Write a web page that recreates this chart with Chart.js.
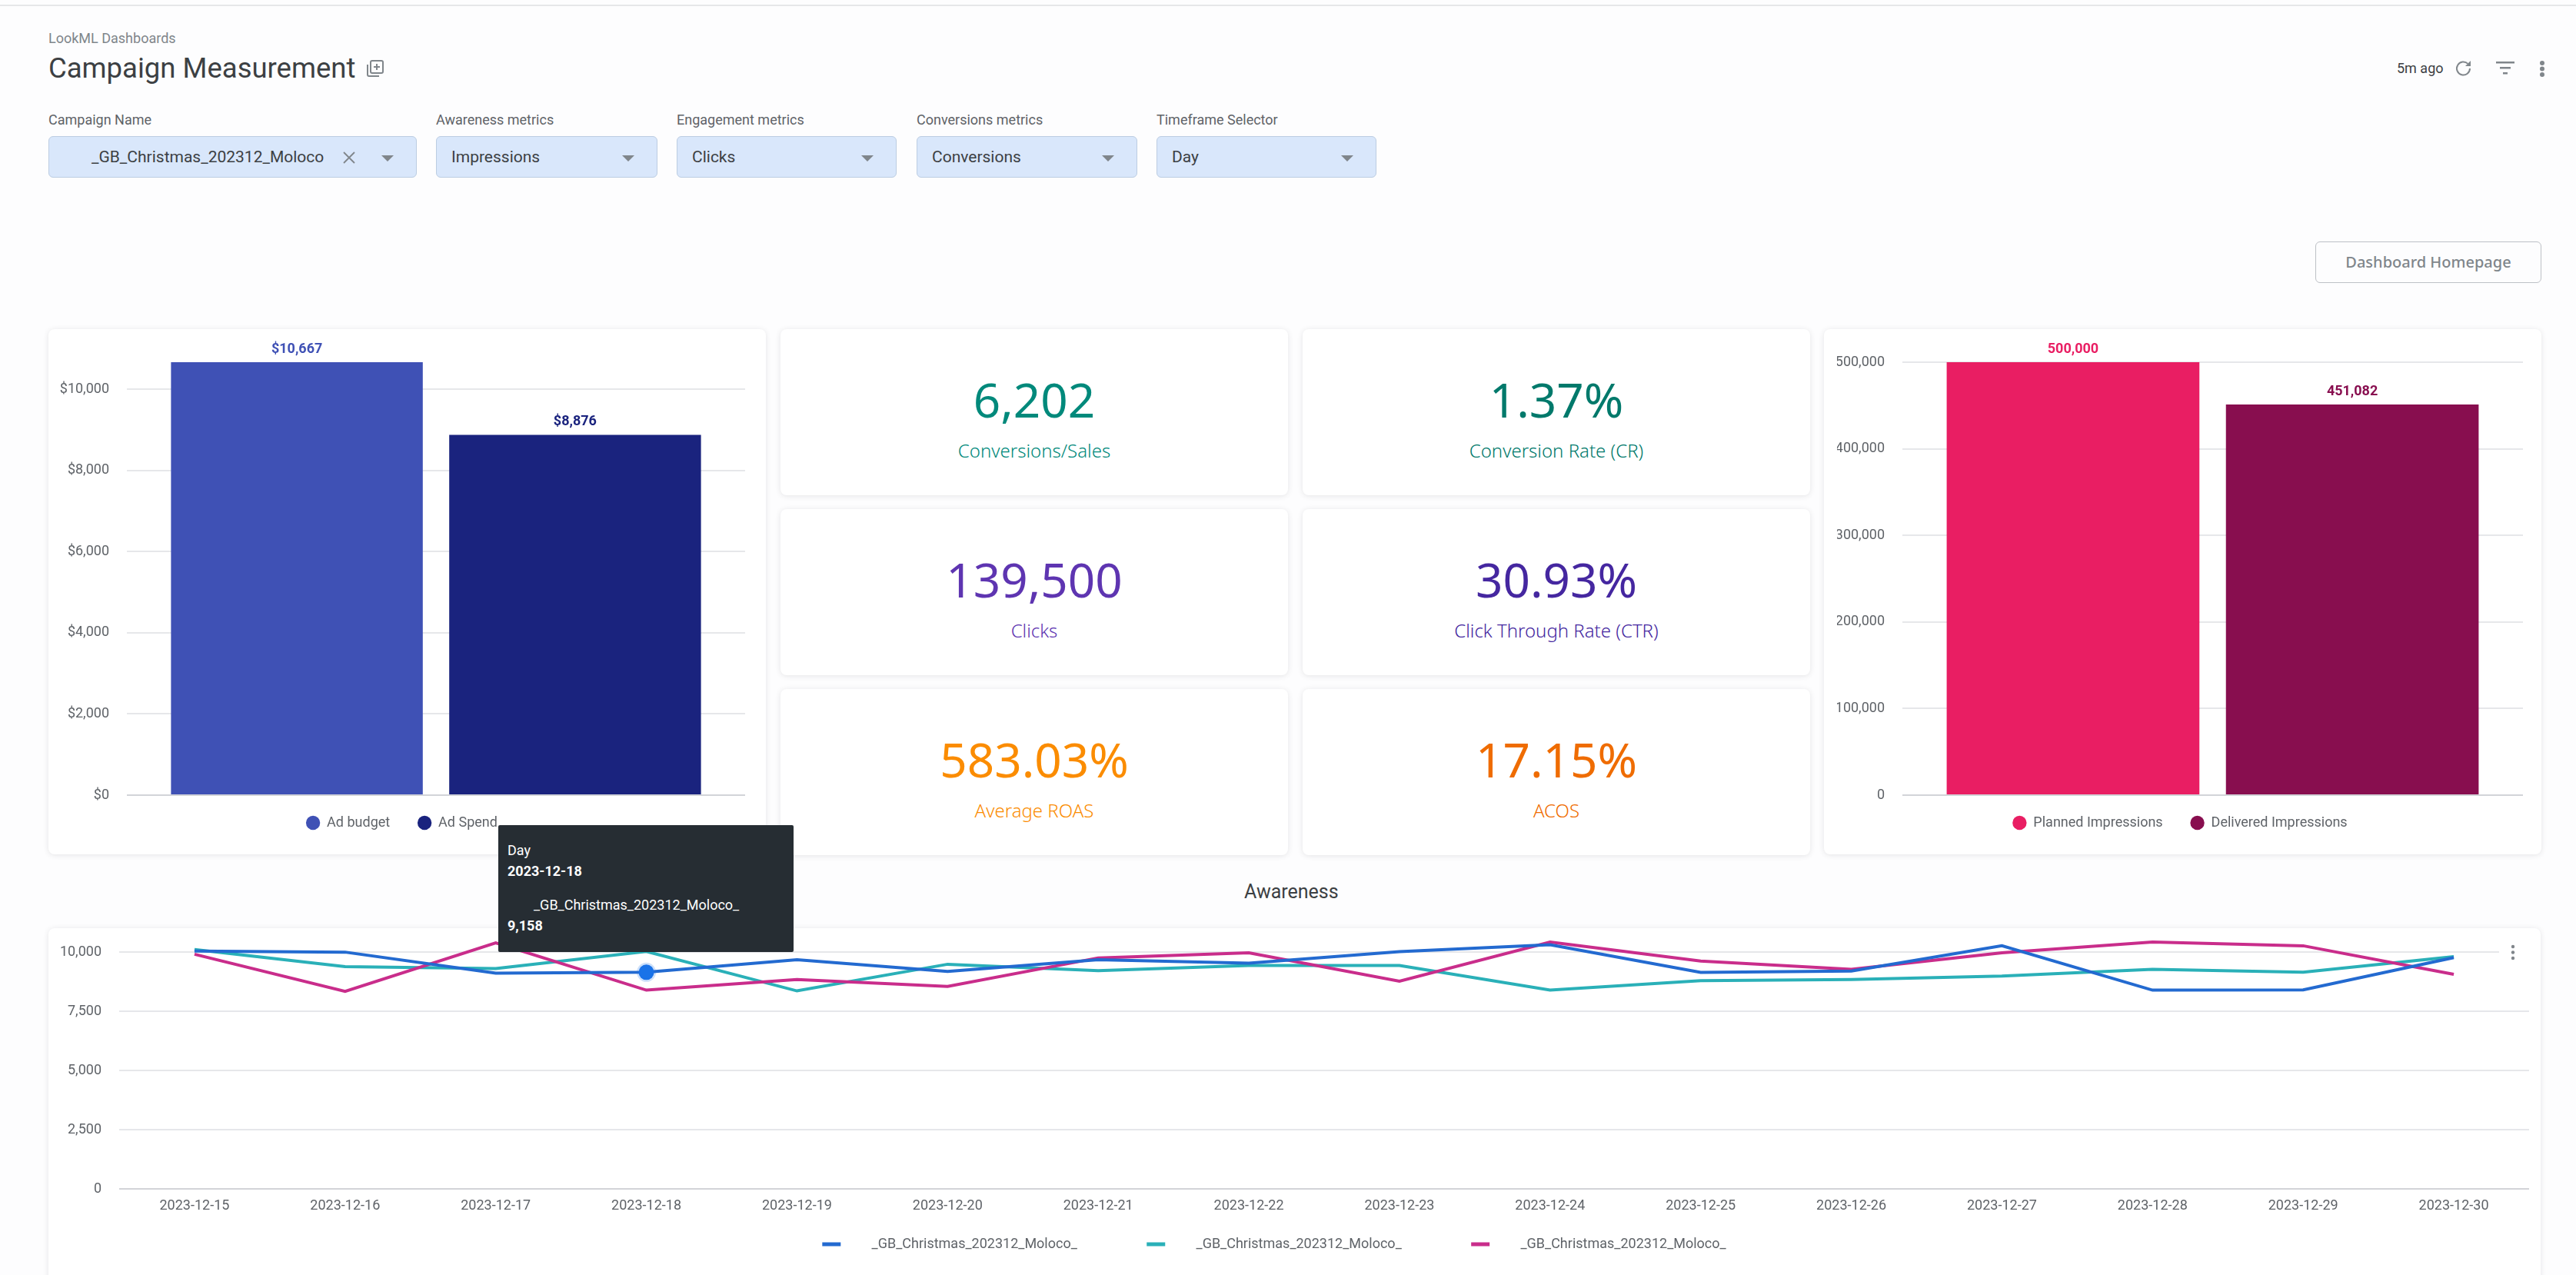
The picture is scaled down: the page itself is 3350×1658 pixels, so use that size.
<!DOCTYPE html>
<html>
<head>
<meta charset="utf-8">
<title>Campaign Measurement</title>
<script src="https://cdn.jsdelivr.net/npm/chart.js@4"></script>
<style>
    html, body { margin: 0; padding: 0; }
    body { width: 3350px; height: 1658px; overflow: hidden; position: relative; background: #fdfdfe; font-family: Roboto, sans-serif; }
    .abs { position: absolute; white-space: nowrap; }
    canvas { position: absolute; }
    .topline { left: 0; top: 6px; width: 3350px; height: 2px; background: #e6e7e9; }
    .card { position: absolute; background: #fff; border-radius: 8px; box-shadow: 0 1px 7px rgba(60, 64, 67, .13); }
    .flabel { font-size: 18px; color: #5f6368; line-height: 22px; top: 145px; }
    .fbox { position: absolute; top: 177px; height: 54px; box-sizing: border-box; background: #d9e7fb; border: 1px solid #bccde2; border-radius: 6px; font-size: 21px; color: #3c4043; line-height: 52px; padding-left: 19px; }
    .fbox i { position: absolute; right: 29px; top: 24px; width: 0; height: 0; border-left: 8px solid transparent; border-right: 8px solid transparent; border-top: 8px solid #80868b; }
    .kpi { text-align: center; }
    .kpi .num { position: absolute; left: 0; right: 0; font-family: "Noto Sans", sans-serif; font-weight: 400; font-size: 62px; line-height: 80px; top: 51px; }
    .kpi .lab { position: absolute; left: 0; right: 0; font-family: "Noto Sans", sans-serif; font-weight: 300; font-size: 24px; line-height: 30px; top: 143px; }
    #tip { left: 648px; top: 1073px; width: 384px; height: 165px; background: #262d33; border-radius: 2px; color: #fff; font-size: 18px; z-index: 5; }
    #tip div { position: absolute; left: 12px; line-height: 22px; }
</style>
</head>
<body>
<div class="abs topline"></div>
<div class="abs" style="left:63px;top:39px;font-size:18px;line-height:22px;color:#80868b">LookML Dashboards</div>
<div class="abs" style="left:63px;top:65px;font-size:36.500px;line-height:48px;color:#3c4043">Campaign Measurement</div>
<svg class="abs" style="left:475px;top:76px" width="26" height="26" viewBox="0 0 26 26" fill="none" stroke="#80868b" stroke-width="2"><rect x="7" y="3" width="16" height="16" rx="2"/><path d="M3 8v13a2 2 0 0 0 2 2h13"/><path d="M15 7v8M11 11h8"/></svg>

<div class="abs" style="left:3117px;top:78px;font-size:18px;line-height:22px;color:#3c4043">5m ago</div>
<svg class="abs" style="left:3192px;top:77px" width="24" height="24" viewBox="0 0 24 24" fill="none" stroke="#80868b" stroke-width="2"><path d="M20 12a8.5 8.5 0 1 1-2.6-6.1"/><path d="M21 2v7h-7z" fill="#80868b" stroke="none"/></svg>
<svg class="abs" style="left:3246px;top:78px" width="24" height="22" viewBox="0 0 24 22" fill="#80868b"><rect x="0" y="2" width="24" height="2.5"/><rect x="5" y="9" width="14" height="2.5"/><rect x="9" y="16" width="6" height="2.5"/></svg>
<svg class="abs" style="left:3300px;top:78px" width="12" height="24" viewBox="0 0 12 24" fill="#80868b"><circle cx="6" cy="4" r="3"/><circle cx="6" cy="11.500" r="3"/><circle cx="6" cy="19" r="3"/></svg>

<div id="filters"></div>

<div class="abs" style="left:3011px;top:314px;width:294px;height:54px;box-sizing:border-box;border:1.5px solid #bdc1c6;border-radius:6px;text-align:center;line-height:51px;font-family:'Noto Sans',sans-serif;font-size:20px;font-weight:500;color:#80868b">Dashboard Homepage</div>

<div class="card" style="left:63px;top:428px;width:933px;height:683px"></div>
<div class="card" style="left:2372px;top:428px;width:933px;height:683px"></div>
<div id="kpis"></div>
<div class="abs" style="left:1618px;top:1144px;font-size:25px;line-height:32px;color:#3c4043">Awareness</div>
<div class="card" style="left:63px;top:1207px;width:3241px;height:470px"></div>

<canvas id="spendChart"></canvas>
<canvas id="impressionsChart"></canvas>
<canvas id="awarenessChart"></canvas>

<!-- card menu sits on top of the 10,000 grid line -->
<div class="abs" style="left:3250px;top:1226px;width:39px;height:26px;background:#fff"></div>
<svg class="abs" style="left:3262px;top:1228px" width="12" height="22" viewBox="0 0 12 22" fill="#80868b"><circle cx="6" cy="3" r="2.200"/><circle cx="6" cy="10.500" r="2.200"/><circle cx="6" cy="18" r="2.200"/></svg>

<div class="abs" id="tip"></div>

<script>
// Filters
const filterLabels = ['Campaign Name', 'Awareness metrics', 'Engagement metrics', 'Conversions metrics', 'Timeframe Selector'];
const filterValues = ['_GB_Christmas_202312_Moloco', 'Impressions', 'Clicks', 'Conversions', 'Day'];

// KPI cards
const kpiValues = ['6,202', '1.37%', '139,500', '30.93%', '583.03%', '17.15%'];
const kpiLabels = ['Conversions/Sales', 'Conversion Rate (CR)', 'Clicks', 'Click Through Rate (CTR)', 'Average ROAS', 'ACOS'];
const kpiColors = ['#00897b', '#00796b', '#5e35b1', '#4527a0', '#fb8c00', '#ef6c00'];

// Spend bars
const spendNames = ['Ad budget', 'Ad Spend'];
const spendValues = [10667, 8876];
const spendColors = ['#3f51b5', '#1a237e'];
const spendTicks = [0, 2000, 4000, 6000, 8000, 10000];

// Impression bars
const impressionNames = ['Planned Impressions', 'Delivered Impressions'];
const impressionValues = [500000, 451082];
const impressionColors = ['#e91e63', '#880e4f'];
const impressionTicks = [0, 100000, 200000, 300000, 400000, 500000];

// Awareness lines
const days = ['2023-12-15', '2023-12-16', '2023-12-17', '2023-12-18', '2023-12-19', '2023-12-20', '2023-12-21', '2023-12-22',
    '2023-12-23', '2023-12-24', '2023-12-25', '2023-12-26', '2023-12-27', '2023-12-28', '2023-12-29', '2023-12-30'];
const campaignName = '_GB_Christmas_202312_Moloco_';
const blueValues = [10055, 10010, 9119, 9158, 9688, 9197, 9688, 9543, 10033, 10323, 9152, 9208, 10278, 8405, 8417, 9777];
const tealValues = [10122, 9398, 9320, 10040, 8372, 9498, 9230, 9442, 9442, 8405, 8807, 8851, 8996, 9286, 9163, 9821];
const pinkValues = [9922, 8350, 10400, 8405, 8851, 8561, 9766, 9978, 8784, 10434, 9632, 9286, 9978, 10434, 10278, 9074];
const awarenessTicks = [0, 2500, 5000, 7500, 10000];
const lineColors = ['#236ad0', '#2ab0b8', '#c92d8b'];
const hoverIndex = 3;

const tickColor = '#5f6368';
const gridColor = '#e6e7ea';
const baseColor = '#d2d4d8';
const nbsp = n => '\u00a0'.repeat(n);

function place(canvas, left, top, width, height) {
    canvas.width = width;
    canvas.height = height;
    canvas.style.left = left + 'px';
    canvas.style.top = top + 'px';
}

// filter boxes
const filterLefts = [63, 567, 880, 1192, 1504];
const filterWidths = [479, 288, 286, 287, 286];
filterLabels.forEach(function (label, i) {
    const l = document.createElement('div');
    l.className = 'abs flabel';
    l.style.left = filterLefts[i] + 'px';
    l.textContent = label;
    document.body.appendChild(l);
    const box = document.createElement('div');
    box.className = 'fbox';
    box.style.left = filterLefts[i] + 'px';
    box.style.width = filterWidths[i] + 'px';
    box.style.paddingLeft = (i === 0 ? 55 : 19) + 'px';
    box.innerHTML = '<span></span><i></i>';
    box.firstChild.textContent = filterValues[i];
    if (i === 0) {
        box.insertAdjacentHTML('beforeend', '<svg style="position:absolute;left:381px;top:18px" width="18" height="18" viewBox="0 0 18 18" stroke="#80868b" stroke-width="1.800"><path d="M2 2l14 14M16 2L2 16"/></svg>');
    }
    document.body.appendChild(box);
});

// kpi cards
const kpiLefts = [1015, 1694];
const kpiTops = [428, 662, 896];
kpiValues.forEach(function (value, i) {
    const c = document.createElement('div');
    c.className = 'card kpi';
    c.style.left = kpiLefts[i % 2] + 'px';
    c.style.top = kpiTops[Math.floor(i / 2)] + 'px';
    c.style.width = '660px';
    c.style.height = '216px';
    c.style.color = kpiColors[i];
    c.innerHTML = '<div class="num"></div><div class="lab"></div>';
    c.children[0].textContent = value;
    c.children[1].textContent = kpiLabels[i];
    document.body.appendChild(c);
});

// tooltip for the hovered point
const tipLines = [['Day', 22, 400, 12], [days[hoverIndex], 49, 700, 12], [campaignName, 93, 400, 46], [blueValues[hoverIndex].toLocaleString('en-US'), 120, 700, 12]];
tipLines.forEach(function (t) {
    const d = document.createElement('div');
    d.textContent = t[0];
    d.style.top = t[1] + 'px';
    d.style.fontWeight = t[2];
    d.style.left = t[3] + 'px';
    document.getElementById('tip').appendChild(d);
});

// value above each bar
const barValueLabels = {
    id: 'barValueLabels',
    afterDatasetsDraw(chart) {
        const ctx = chart.ctx;
        chart.data.datasets.forEach(function (ds, i) {
            const bar = chart.getDatasetMeta(i).data[0];
            ctx.save();
            ctx.font = '700 18px Roboto';
            ctx.fillStyle = ds.backgroundColor;
            ctx.textAlign = 'center';
            ctx.textBaseline = 'middle';
            ctx.fillText(ds.valueLabel(ds.data[0]), bar.x, bar.y - 17);
            ctx.restore();
        });
    }
};

function barChart(canvas, names, values, colors, axisMax, tickValues, axisWidth, format) {
    return new Chart(canvas, {
        type: 'bar',
        data: {
            labels: [''],
            datasets: names.map((name, i) => ({
                label: name,
                data: [values[i]],
                backgroundColor: colors[i],
                borderWidth: 0,
                valueLabel: format
            }))
        },
        options: {
            responsive: false,
            animation: false,
            categoryPercentage: 0.9,
            barPercentage: 0.905,
            layout: { padding: { top: 43 } },
            plugins: {
                tooltip: { enabled: false },
                legend: {
                    position: 'bottom',
                    labels: {
                        usePointStyle: true,
                        pointStyle: 'circle',
                        boxWidth: 18,
                        boxHeight: 13,
                        padding: 27,
                        color: tickColor,
                        font: { family: 'Roboto', size: 18 },
                        generateLabels(chart) {
                            const items = Chart.defaults.plugins.legend.labels.generateLabels(chart);
                            items[0].text += nbsp(2);
                            return items;
                        }
                    }
                }
            },
            scales: {
                x: { display: false },
                y: {
                    min: 0,
                    max: axisMax,
                    afterFit(scale) { scale.width = axisWidth; },
                    afterBuildTicks(scale) { scale.ticks = tickValues.map(v => ({ value: v })); },
                    border: { display: false },
                    grid: {
                        drawTicks: false,
                        lineWidth: 2,
                        color: c => (c.tick.value === 0 ? baseColor : gridColor)
                    },
                    ticks: {
                        padding: 23,
                        color: tickColor,
                        font: { family: 'Roboto', size: 18 },
                        callback: format
                    }
                }
            }
        },
        plugins: [barValueLabels]
    });
}

const spendCanvas = document.getElementById('spendChart');
place(spendCanvas, 76, 428, 893, 661);
barChart(spendCanvas, spendNames, spendValues, spendColors, 10667, spendTicks, 89, v => '$' + Number(v).toLocaleString('en-US'));

const impressionsCanvas = document.getElementById('impressionsChart');
place(impressionsCanvas, 2389, 428, 892, 661);
barChart(impressionsCanvas, impressionNames, impressionValues, impressionColors, 500000, impressionTicks, 85, v => Number(v).toLocaleString('en-US'));

// Awareness
const awarenessCanvas = document.getElementById('awarenessChart');
place(awarenessCanvas, 25, 1180, 3264, 457);
new Chart(awarenessCanvas, {
    type: 'line',
    data: {
        labels: days,
        datasets: [blueValues, tealValues, pinkValues].map((values, i) => ({
            label: campaignName,
            data: values,
            borderColor: lineColors[i],
            backgroundColor: lineColors[i],
            borderWidth: 4,
            tension: 0,
            order: i === 0 ? 0 : 3 - i,
            pointRadius: c => (i === 0 && c.dataIndex === hoverIndex ? 10 : 0),
            pointBackgroundColor: '#1a73e8',
            pointBorderColor: 'rgba(26, 115, 232, .22)',
            pointBorderWidth: 5
        }))
    },
    options: {
        responsive: false,
        animation: false,
        layout: { padding: { top: 5 } },
        plugins: {
            tooltip: { enabled: false },
            legend: {
                position: 'bottom',
                labels: {
                    boxWidth: 24,
                    boxHeight: 5,
                    padding: 19,
                    color: tickColor,
                    font: { family: 'Roboto', size: 18 },
                    sort: (a, b) => a.datasetIndex - b.datasetIndex,
                    generateLabels(chart) {
                        const items = Chart.defaults.plugins.legend.labels.generateLabels(chart);
                        items.forEach(function (item) {
                            item.lineWidth = 0;
                            item.text = nbsp(7) + item.text + (item.datasetIndex < 2 ? nbsp(16) : '');
                        });
                        return items;
                    }
                }
            }
        },
        scales: {
            x: {
                offset: true,
                border: { display: false },
                grid: { display: false, drawTicks: false },
                ticks: {
                    padding: 11,
                    maxRotation: 0,
                    autoSkip: false,
                    color: tickColor,
                    font: { family: 'Roboto', size: 18 }
                }
            },
            y: {
                min: 0,
                max: 10800,
                afterFit(scale) { scale.width = 130; },
                afterBuildTicks(scale) { scale.ticks = awarenessTicks.map(v => ({ value: v })); },
                border: { display: false },
                grid: {
                    drawTicks: false,
                    lineWidth: 2,
                    color: c => (c.tick.value === 0 ? baseColor : gridColor)
                },
                ticks: {
                    padding: 23,
                    color: tickColor,
                    font: { family: 'Roboto', size: 18 },
                    callback: v => Number(v).toLocaleString('en-US')
                }
            }
        }
    }
});
</script>
</body>
</html>
